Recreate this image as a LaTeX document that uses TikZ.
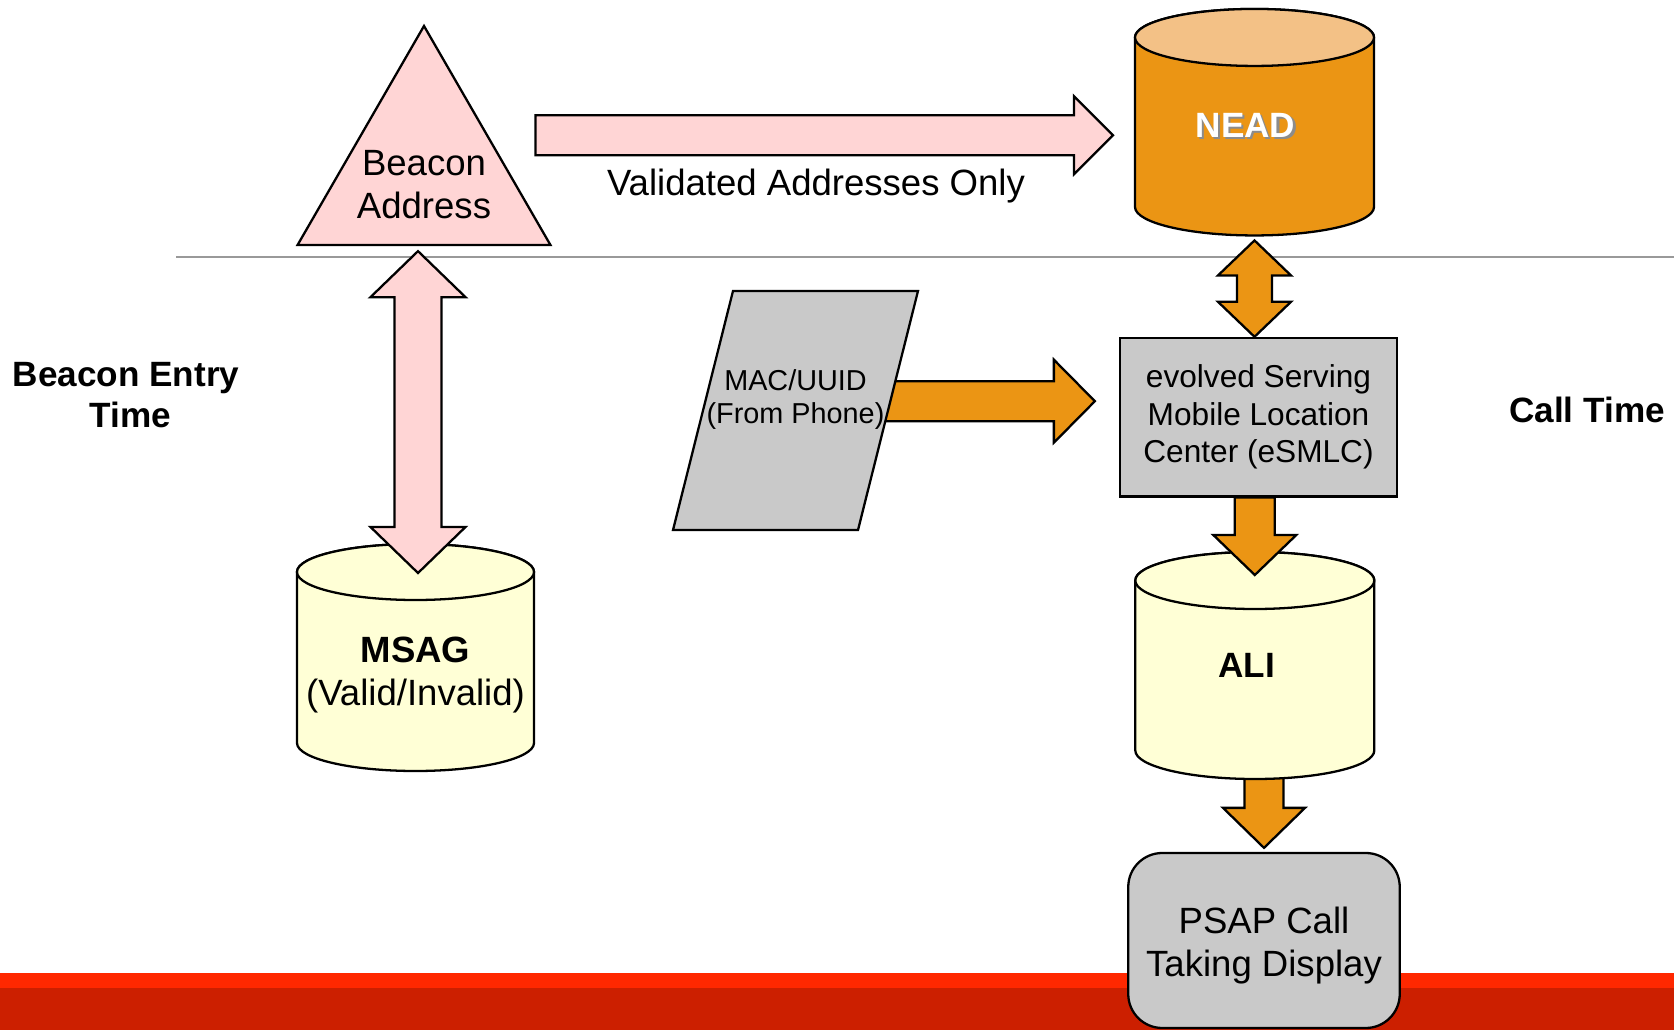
\documentclass[tikz,border=0pt]{standalone}
\usepackage{fontspec}
\setmainfont{Liberation Sans}
\usepackage{tikz}
\usetikzlibrary{shapes.geometric,positioning,calc,backgrounds}
\definecolor{beaconpink}{HTML}{FFD5D5}
\definecolor{dbyellow}{HTML}{FFFFD6}
\definecolor{neadorange}{HTML}{EB9514}
\definecolor{neadtop}{HTML}{F3C186}
\definecolor{boxgray}{HTML}{C9C9C9}
\definecolor{bandred}{HTML}{FF2800}
\definecolor{banddark}{HTML}{CC1F00}
\newcommand{\shadowtxt}[1]{\makebox[0pt][l]{\hspace{0.6pt}\raisebox{-0.6pt}{\textcolor{black!45}{#1}}}#1}

% fat arrows: [style]{from}{tip}{half shaft}{half head}{head length}
\newcommand{\hblockarrow}[6][]{%
  \draw[#1] let \p1=#2, \p2=#3 in
    (\x1,\y2+#4) -- (\x2-#6,\y2+#4) -- (\x2-#6,\y2+#5) -- (\x2,\y2)
    -- (\x2-#6,\y2-#5) -- (\x2-#6,\y2-#4) -- (\x1,\y2-#4) -- cycle;}
\newcommand{\vblockarrow}[6][]{%
  \draw[#1] let \p1=#2, \p2=#3 in
    (\x2-#4,\y1) -- (\x2+#4,\y1) -- (\x2+#4,\y2+#6) -- (\x2+#5,\y2+#6) -- (\x2,\y2)
    -- (\x2-#5,\y2+#6) -- (\x2-#4,\y2+#6) -- cycle;}
\newcommand{\vdoublearrow}[6][]{%
  \draw[#1] let \p1=#2, \p2=#3 in
    (\x2,\y1) -- (\x2+#5,\y1-#6) -- (\x2+#4,\y1-#6) -- (\x2+#4,\y2+#6) -- (\x2+#5,\y2+#6)
    -- (\x2,\y2) -- (\x2-#5,\y2+#6) -- (\x2-#4,\y2+#6) -- (\x2-#4,\y1-#6) -- (\x2-#5,\y1-#6) -- cycle;}

% database drum: {name}{centre}{half width}{half height}{end radius}{body fill}{end fill}
\newcommand{\drum}[7]{%
  \node[drumnode, minimum width=2*#3, minimum height=2*#4] (#1) at #2 {};
  \draw[outline, fill=#6] ([yshift=-#5]#1.north west) -- ([yshift=#5]#1.south west)
    arc[start angle=180, end angle=360, x radius=#3, y radius=#5]
    -- ([yshift=-#5]#1.north east)
    arc[start angle=0, end angle=180, x radius=#3, y radius=#5] -- cycle;
  \draw[outline, fill=#7] ([yshift=-#5]#1.north) ellipse[x radius=#3, y radius=#5];}

\tikzset{
  outline/.style={draw=black, line width=0.65pt},
  drumnode/.style={rectangle, inner sep=0pt, outer sep=0pt},
  beacontri/.style={regular polygon, regular polygon sides=3, outline,
    fill=beaconpink, minimum size=2.92cm, inner sep=1pt},
  paranode/.style={rectangle, inner sep=0pt, outer sep=0pt},
  graybox/.style={rectangle, outline, fill=boxgray, align=center, inner sep=0pt},
  lbl/.style={align=center, inner sep=0pt, font=\fontsize{10.4}{12.2}\selectfont},
  boldlbl/.style={lbl, font=\fontsize{10}{12}\selectfont\bfseries},
  sidelbl/.style={align=center, inner sep=0pt, font=\fontsize{10}{11.5}\selectfont\bfseries},
}

\begin{document}
\begin{tikzpicture}[
    pinkblock/.style={outline, fill=beaconpink},
    orangeblock/.style={outline, fill=neadorange},
    sepline/.style={draw=black!40, line width=0.35pt}
  ]
  \useasboundingbox (0,0) rectangle (16.74,10.30);

  % ============ slide background: divider and red band ============
  \draw[sepline] (1.76,7.73) -- (16.74,7.73);
  \fill[bandred]  (0,0.42) rectangle (16.74,0.57);
  \fill[banddark] (0,0) rectangle (16.74,0.42);

  % ============ left column (beacon entry time) ============
  \node[beacontri] (beacon) at (4.24,8.58) {};
  \node[lbl] (beaconlbl) at ([yshift=-1.3mm]beacon.center) {Beacon\\Address};
  \drum{msag}{(4.155,3.725)}{1.185cm}{1.135cm}{2.8mm}{dbyellow}{dbyellow}
  \node[lbl] (msaglbl) at ([yshift=-1.75mm]msag.center) {\textbf{MSAG}\\(Valid/Invalid)};

  % ============ right column (call time) ============
  \drum{nead}{(12.545,9.078)}{1.195cm}{1.1325cm}{2.85mm}{neadorange}{neadtop}
  \node[boldlbl, text=white] (neadlbl) at ([shift={(-0.9mm,-0.4mm)}]nead.center) {\shadowtxt{NEAD}};

  \node[graybox, minimum width=2.77cm, minimum height=1.585cm,
    font=\fontsize{9}{10.7}\selectfont] (esmlc) at (12.585,6.128)
    {evolved Serving\\Mobile Location\\Center (eSMLC)};

  \drum{ali}{(12.548,3.645)}{1.195cm}{1.135cm}{2.85mm}{dbyellow}{dbyellow}
  \node[boldlbl] (alilbl) at ([xshift=-0.8mm]ali.center) {ALI};

  \node[graybox, rounded corners=3.4mm, minimum width=2.715cm, minimum height=1.75cm]
    (psap) at (12.64,0.895) {};
  \node[lbl] (psaplbl) at ([yshift=-0.5mm]psap.center) {PSAP Call\\Taking Display};

  % ============ phone identifier (slanted box) ============
  \node[paranode, minimum width=2.45cm, minimum height=2.39cm] (mac) at (7.955,6.195) {};
  \draw[outline, fill=boxgray] (mac.south west) -- ([xshift=-6mm]mac.south east)
    -- (mac.north east) -- ([xshift=6mm]mac.north west) -- cycle;
  \node[lbl, font=\fontsize{8.2}{9.4}\selectfont] (maclbl) at ([yshift=1.1mm]mac.center)
    {MAC/UUID\\(From Phone)};

  % ============ side labels ============
  \node[sidelbl] (entrylbl) at (1.26,6.35) {Beacon Entry\\\hspace*{0.9mm}Time};
  \node[sidelbl] (calllbl)  at (15.87,6.20) {Call Time};

  % ============ block arrows ============
  \hblockarrow[pinkblock]{([xshift=-1.7mm]beacon.corner 3)}{([shift={(-2.2mm,-1.3mm)}]nead.west)}
    {2mm}{3.9mm}{3.9mm}
  \node[lbl] (validlbl) at (8.16,8.44) {Validated Addresses Only};

  \vdoublearrow[pinkblock]{([yshift=-0.5mm]beacon.south)}{([shift={(0.25mm,-2.9mm)}]msag.north)}
    {2.35mm}{4.75mm}{4.6mm}

  \vdoublearrow[orangeblock]{([yshift=-0.5mm]nead.south)}{(esmlc.north -| nead.south)}
    {1.75mm}{3.65mm}{3.5mm}

  \vblockarrow[orangeblock]{(esmlc.south)}{([yshift=-2.3mm]ali.north)}{2mm}{4.15mm}{4mm}

  \begin{scope}[on background layer]
    \hblockarrow[orangeblock]{(mac.center)}{([shift={(-2.4mm,1.6mm)}]esmlc.west)}
      {2mm}{4.15mm}{4.1mm}
    \vblockarrow[orangeblock]{([yshift=3mm]ali.south)}{([yshift=0.4mm]psap.north)}
      {1.95mm}{4.1mm}{4mm}
  \end{scope}

\end{tikzpicture}
\end{document}
